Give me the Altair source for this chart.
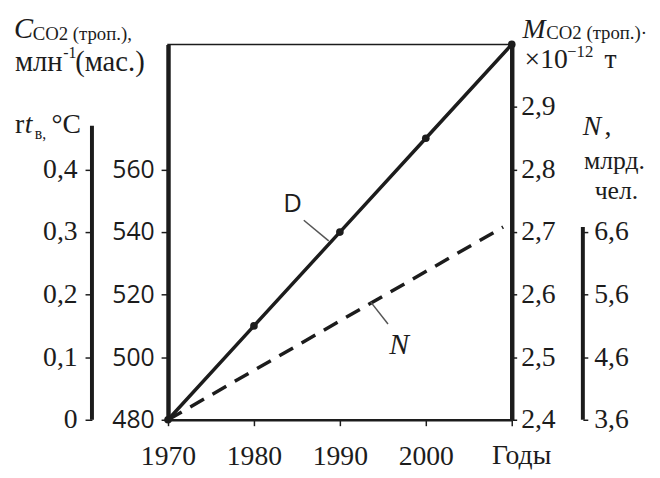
import altair as alt
import pandas as pd

# ---- data ----
years_d = [1970, 1980, 1990, 2000, 2010]
co2_ppm = [480, 510, 540, 570, 600]          # C_CO2 (троп.), млн^-1 (мас.)
co2_mass = [2.4, 2.55, 2.7, 2.85, 3.0]        # M_CO2 (троп.) x10^-12 т
years_n = [1970, 2009]
population = [3.6, 6.68]                      # N, млрд. чел.
rt_axis_span = [0, 0.47]                      # extent of the rt_в axis line
n_axis_span = [3.6, 6.68]                     # extent of the N axis line

year_ticks = [1970, 1980, 1990, 2000, 2010]
co2_ticks = [480, 500, 520, 540, 560]
mass_ticks = [2.4, 2.5, 2.6, 2.7, 2.8, 2.9]
rt_ticks = [0, 0.1, 0.2, 0.3, 0.4]
n_ticks = [3.6, 4.6, 5.6, 6.6]

# annotation leader lines (in year / CO2 units)
lead_d = {"x0": [1985.8], "x1": [1988.7], "y0": [543.8], "y1": [537.2]}
lead_n = {"x0": [1993.6], "x1": [1995.6], "y0": [517.6], "y1": [510.6]}

INK = "#1c1c1c"
SERIF = "Liberation Serif"
SANS = "Open Sans"
W, H = 348, 380

dfD = pd.DataFrame({"year": years_d, "C": co2_ppm, "M": co2_mass})
dfN = pd.DataFrame({"year": years_n, "N": population})
dfRt = pd.DataFrame({"lo": [rt_axis_span[0]], "hi": [rt_axis_span[1]]})
dfNa = pd.DataFrame({"lo": [n_axis_span[0]], "hi": [n_axis_span[1]]})
one = pd.DataFrame({"k": [0]})

comma = "replace(format(datum.value, '.1f'), '.', ',')"

x_axis = alt.Axis(
    values=year_ticks, title=None, orient="bottom",
    labelExpr="datum.value >= 2010 ? '' : format(datum.value, 'd')",
    labelFont=SERIF, labelFontSize=28, labelColor=INK,
    labelBaseline="alphabetic", labelPadding=39,
    labelFlush=False, labelOverlap=False, labelBound=False,
    tickSize=6, tickWidth=1.5, tickColor=INK,
    domainColor=INK, domainWidth=2.5, grid=False,
)
x_scale = alt.Scale(domain=[1970, 2010], nice=False, zero=False)


def X(field):
    return alt.X(field + ":Q", scale=x_scale, axis=x_axis)


sc_C = alt.Scale(domain=[480, 600], nice=False, zero=False)
sc_M = alt.Scale(domain=[2.4, 3.0], nice=False, zero=False)
sc_rt = alt.Scale(domain=[0, 0.6], nice=False, zero=False)
sc_N = alt.Scale(domain=[3.6, 9.6], nice=False, zero=False)

lineD = alt.Chart(dfD).mark_line(color=INK, strokeWidth=3.5).encode(
    x=X("year"),
    y=alt.Y("C:Q", scale=sc_C, axis=alt.Axis(
        orient="left", values=co2_ticks, title=None, format="d",
        labelFont=SANS, labelFontSize=25, labelColor=INK, labelPadding=7,
        tickSize=7, tickWidth=1.5, tickColor=INK,
        domainColor=INK, domainWidth=4.5, grid=False)),
)

pointsM = alt.Chart(dfD).mark_circle(color=INK, size=60, opacity=1).encode(
    x=X("year"),
    y=alt.Y("M:Q", scale=sc_M, axis=alt.Axis(
        orient="right", values=mass_ticks, title=None, labelExpr=comma,
        labelFont=SERIF, labelFontSize=28, labelColor=INK, labelPadding=4,
        tickSize=5, tickWidth=1.5, tickColor=INK,
        domainColor=INK, domainWidth=4.5, grid=False)),
)

rtAxis = alt.Chart(dfRt).mark_rule(color=INK, strokeWidth=4).encode(
    x=alt.value(-77),
    y=alt.Y("lo:Q", scale=sc_rt, axis=alt.Axis(
        orient="left", offset=77, values=rt_ticks, title=None, domain=False,
        labelExpr="datum.value == 0 ? '0' : " + comma,
        labelFont=SERIF, labelFontSize=28, labelColor=INK, labelPadding=8,
        tickSize=7, tickWidth=1.5, tickColor=INK, grid=False)),
    y2="hi:Q",
)

lineN = alt.Chart(dfN).mark_line(color=INK, strokeWidth=3.5, strokeDash=[16, 10]).encode(
    x=X("year"),
    y=alt.Y("N:Q", scale=sc_N, axis=alt.Axis(
        orient="right", offset=72, values=n_ticks, title=None, domain=False,
        labelExpr=comma,
        labelFont=SERIF, labelFontSize=28, labelColor=INK, labelPadding=6,
        tickSize=5, tickWidth=1.5, tickColor=INK, grid=False)),
)

nAxis = alt.Chart(dfNa).mark_rule(color=INK, strokeWidth=4).encode(
    x=alt.value(W + 72),
    y=alt.Y("lo:Q", scale=sc_N, axis=None),
    y2="hi:Q",
)


def leader(d):
    return alt.Chart(pd.DataFrame(d)).mark_rule(color="#555555", strokeWidth=1.5).encode(
        x=X("x0"),
        x2="x1:Q",
        y=alt.Y("y0:Q", scale=sc_C, axis=None),
        y2="y1:Q",
    )


def txt(s, x, y, size=28, font=SERIF, style="normal", align="left"):
    return alt.Chart(one).mark_text(
        text=s, font=font, fontSize=size, fontStyle=style, align=align,
        baseline="alphabetic", color=INK,
    ).encode(x=alt.value(x), y=alt.value(y))


texts = [
    txt("C", -156, -6, size=29, style="italic"),
    txt("CO2 (троп.),", -137, -4, size=19),
    txt("млн", -155, 27, size=29),
    txt("-1", -106, 14, size=16),
    txt("(мас.)", -94, 27, size=29),
    txt("r", -155, 90, size=28),
    txt("t", -145, 90, size=28, style="italic"),
    txt("в,", -135, 96, size=16),
    txt("°C", -118, 90, size=28),
    txt("M", 359, -7, size=28, style="italic"),
    txt("CO2 (троп.)·", 383, -5, size=19),
    txt("×10", 361, 24, size=28),
    txt("−12", 404, 13, size=17),
    txt("т", 442, 24, size=28),
    txt("N", 420, 92, size=28, style="italic"),
    txt(",", 442, 92, size=28),
    txt("млрд.", 452, 126, size=26, align="center"),
    txt("чел.", 454, 156, size=26, align="center"),
    txt("Годы", 358, 425, size=28, align="center"),
    txt("D", 126, 170, size=26, font=SANS, align="center"),
    txt("N", 234, 313, size=30, style="italic", align="center"),
]

chart = alt.layer(
    lineD, pointsM, rtAxis, lineN, nAxis, leader(lead_d), leader(lead_n), *texts
).resolve_scale(y="independent").properties(
    width=W, height=H,
    padding={"left": 162, "top": 34, "right": 142, "bottom": 48},
    autosize=alt.AutoSizeParams(type="none"),
    background="white",
).configure_view(stroke=INK, strokeWidth=1.5, strokeOpacity=1)

chart.save("out.html", embed_options={"renderer": "svg", "actions": False})
